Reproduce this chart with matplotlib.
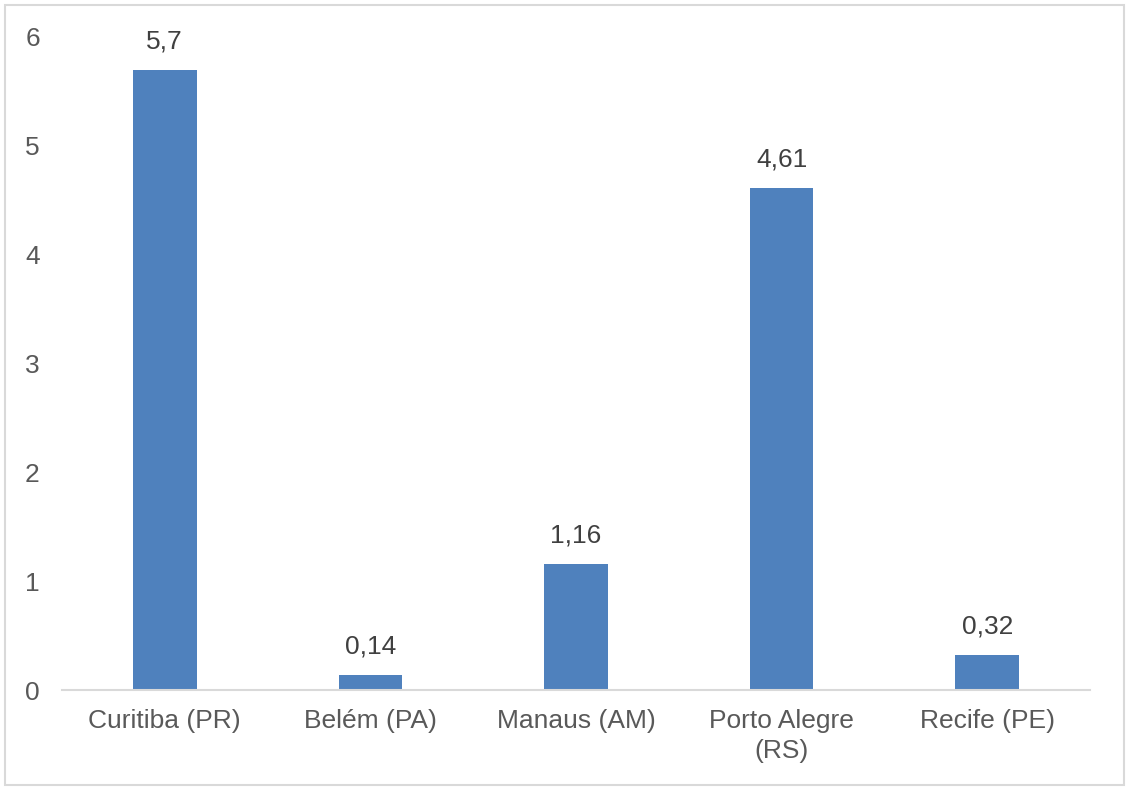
import matplotlib.pyplot as plt
from matplotlib.patches import Rectangle

plt.rcParams['font.family'] = ['Liberation Sans', 'DejaVu Sans']

cidades = ["Curitiba (PR)", "Belém (PA)", "Manaus (AM)", "Porto Alegre\n(RS)", "Recife (PE)"]
valores = [5.7, 0.14, 1.16, 4.61, 0.32]
rotulos = ["5,7", "0,14", "1,16", "4,61", "0,32"]

fig = plt.figure(figsize=(11.31, 7.91), dpi=100)
ax = fig.add_axes([62/1131, 1 - 690/791, 1028/1131, 653/791])

x = range(len(cidades))
bars = ax.bar(x, valores, width=0.31, color='#4F81BD')
for b, r in zip(bars, rotulos):
    ax.text(b.get_x() + b.get_width()/2, b.get_height() + 0.15, r,
            ha='center', va='bottom', fontsize=19, color='#404040')

ax.set_xlim(-0.5, 4.5)
ax.set_ylim(0, 6)
ax.set_xticks(list(x))
ax.set_xticklabels(cidades, fontsize=19, color='#595959', linespacing=1.3)
ax.set_yticks(range(0, 7))
ax.tick_params(axis='y', length=0, pad=16, labelsize=19, labelcolor='#595959')
ax.tick_params(axis='x', length=0, pad=14)
for s in ['top', 'right', 'left']:
    ax.spines[s].set_visible(False)
ax.spines['bottom'].set_color('#D9D9D9')
ax.spines['bottom'].set_linewidth(1.5)

fig.patches.append(Rectangle((5/1131, 6/791), 1119/1131, 780/791, transform=fig.transFigure,
                             fill=False, edgecolor='#D9D9D9', linewidth=1.5))

fig.savefig('out.png', dpi=100)
